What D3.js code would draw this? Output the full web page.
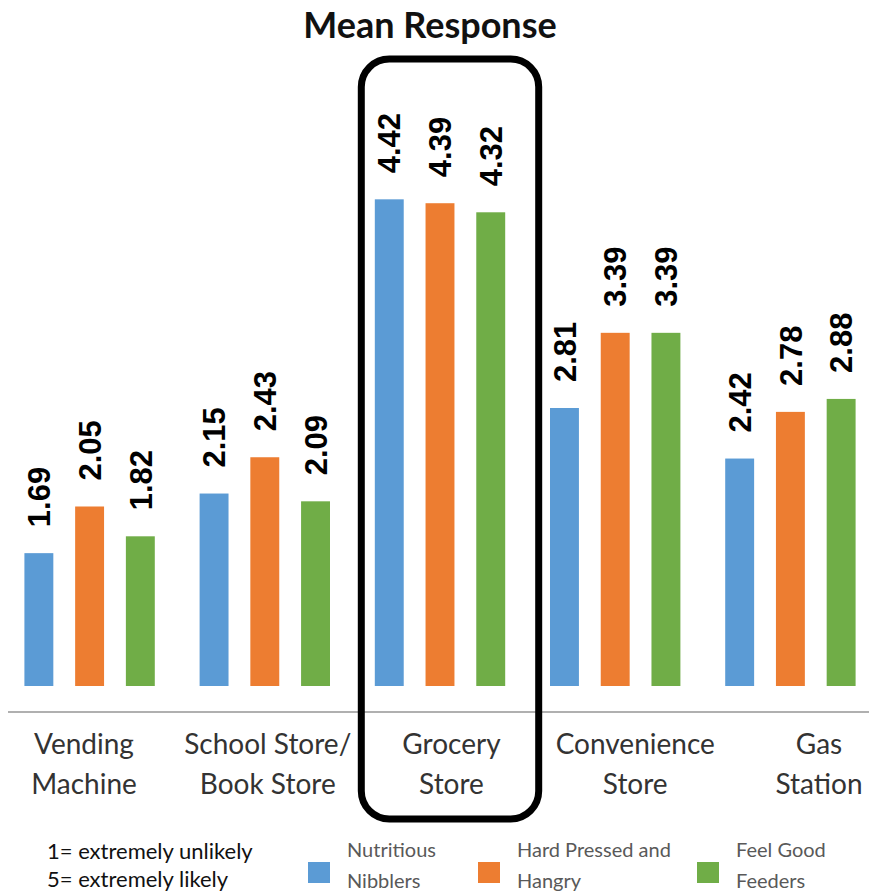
<!DOCTYPE html>
<html>
<head>
<meta charset="utf-8">
<script src="https://cdn.jsdelivr.net/npm/d3@7"></script>
<style>
  body { margin: 0; background: #fff; }
  svg { display: block; }
</style>
</head>
<body>
<svg id="chart" width="869" height="893"></svg>
<script>
// Outlet categories and their two-line axis labels
const categories = ["Vending Machine", "School Store/Book Store", "Grocery Store", "Convenience Store", "Gas Station"];
const categoryLines = [["Vending", "Machine"], ["School Store/", "Book Store"], ["Grocery", "Store"], ["Convenience", "Store"], ["Gas", "Station"]];

// Segments (series) and their legend labels
const seriesNames = ["Nutritious Nibblers", "Hard Pressed and Hangry", "Feel Good Feeders"];
const seriesLines = [["Nutritious", "Nibblers"], ["Hard Pressed and", "Hangry"], ["Feel Good", "Feeders"]];
const seriesColors = ["#5b9bd5", "#ed7d31", "#70ad47"];

// Mean likelihood per outlet, one array per segment
const nutritiousNibblers = [1.69, 2.15, 4.42, 2.81, 2.42];
const hardPressedHangry  = [2.05, 2.43, 4.39, 3.39, 2.78];
const feelGoodFeeders    = [1.82, 2.09, 4.32, 3.39, 2.88];

const scaleNotes = ["1= extremely unlikely", "5= extremely likely"];
const highlighted = "Grocery Store";
const title = "Mean Response";

const seriesValues = [nutritiousNibblers, hardPressedHangry, feelGoodFeeders];
const rows = categories.map((c, i) => ({
  category: c,
  values: seriesNames.map((s, j) => ({ series: s, value: seriesValues[j][i], color: seriesColors[j] }))
}));

const svg = d3.select("#chart");
const labelFont = "Lato, 'Open Sans', 'Noto Sans', sans-serif";
const valueFont = "'Liberation Sans', Arial, sans-serif";

// Scales
const x0 = d3.scaleBand().domain(categories).range([2, 878]).paddingInner(0.25).paddingOuter(0.125);
const x1 = d3.scaleBand().domain(seriesNames).range([0, x0.bandwidth()]).paddingInner(0.43).paddingOuter(0.01);
const y = d3.scaleLinear().domain([0.665, 4.6]).range([686, 176]);
const labelX = d3.scalePoint().domain(categories).range([84, 819]);
const baseY = y(y.domain()[0]);

// Title
svg.append("text")
  .attr("x", 430).attr("y", 38)
  .attr("text-anchor", "middle")
  .attr("font-family", labelFont)
  .attr("font-weight", 700)
  .attr("font-size", 36)
  .attr("fill", "#111")
  .text(title);

// Bars
const groups = svg.append("g").selectAll("g")
  .data(rows).join("g")
  .attr("transform", d => `translate(${x0(d.category)},0)`);

groups.selectAll("rect")
  .data(d => d.values).join("rect")
  .attr("x", d => x1(d.series))
  .attr("width", x1.bandwidth())
  .attr("y", d => y(d.value))
  .attr("height", d => baseY - y(d.value))
  .attr("fill", d => d.color);

// Rotated value labels above each bar
groups.selectAll("text")
  .data(d => d.values).join("text")
  .attr("transform", d => `translate(${x1(d.series) + x1.bandwidth() / 2},${y(d.value) - 26}) rotate(-90)`)
  .attr("dy", "0.36em")
  .attr("text-anchor", "start")
  .attr("font-family", valueFont)
  .attr("font-weight", 700)
  .attr("font-size", 31)
  .attr("fill", "#000")
  .text(d => d.value.toFixed(2));

// Category axis line
svg.append("line")
  .attr("x1", 8).attr("x2", 869)
  .attr("y1", 712).attr("y2", 712)
  .attr("stroke", "#b0b0b0")
  .attr("stroke-width", 2);

// Category labels
const catLabels = svg.append("g").selectAll("text")
  .data(categories).join("text")
  .attr("text-anchor", "middle")
  .attr("font-family", labelFont)
  .attr("font-size", 28)
  .attr("fill", "#333");
catLabels.each(function (c, i) {
  d3.select(this).selectAll("tspan")
    .data(categoryLines[i]).join("tspan")
    .attr("x", labelX(c))
    .attr("y", (d, k) => 754 + k * 40)
    .text(d => d);
});

// Highlight frame around the grocery group
svg.append("rect")
  .attr("x", x0(highlighted) - 13)
  .attr("y", 59)
  .attr("width", x0.bandwidth() + 46)
  .attr("height", 760)
  .attr("rx", 28).attr("ry", 28)
  .attr("fill", "none")
  .attr("stroke", "#000")
  .attr("stroke-width", 7);

// Scale notes
svg.append("g").selectAll("text")
  .data(scaleNotes).join("text")
  .attr("x", 47)
  .attr("y", (d, i) => 859 + i * 28)
  .attr("font-family", labelFont)
  .attr("font-size", 22)
  .attr("fill", "#111")
  .text(d => d);

// Legend
const legendX = [308, 478, 697];
const legend = svg.append("g").selectAll("g")
  .data(seriesNames).join("g")
  .attr("transform", (d, i) => `translate(${legendX[i]},862)`);
legend.append("rect")
  .attr("width", 22).attr("height", 21)
  .attr("fill", (d, i) => seriesColors[i]);
legend.append("text")
  .attr("font-family", labelFont)
  .attr("font-size", 20)
  .attr("fill", "#595959")
  .each(function (d, i) {
    d3.select(this).selectAll("tspan")
      .data(seriesLines[i]).join("tspan")
      .attr("x", 39)
      .attr("y", (t, k) => -5 + k * 31)
      .text(t => t);
  });
</script>
</body>
</html>
